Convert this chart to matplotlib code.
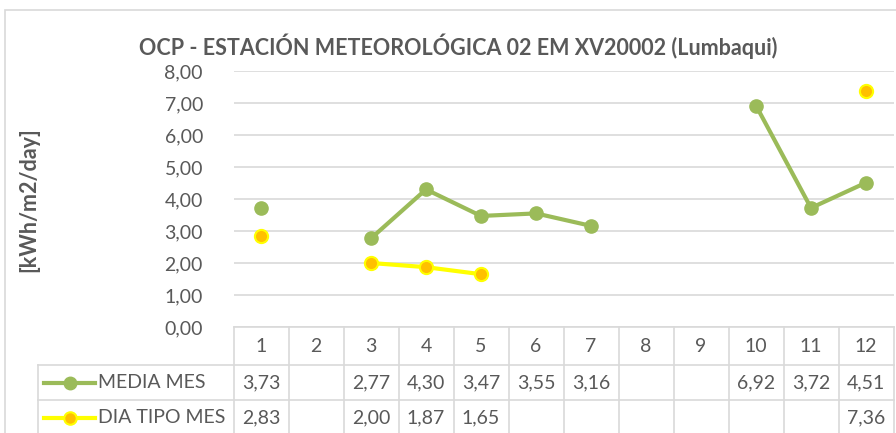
import numpy as np
import matplotlib.pyplot as plt
from matplotlib.patches import Rectangle
from matplotlib.lines import Line2D

plt.rcParams['font.family'] = ['Lato', 'DejaVu Sans']

months = [1, 2, 3, 4, 5, 6, 7, 8, 9, 10, 11, 12]
media_mes = [3.73, np.nan, 2.77, 4.30, 3.47, 3.55, 3.16, np.nan, np.nan, 6.92, 3.72, 4.51]
dia_tipo_mes = [2.83, np.nan, 2.00, 1.87, 1.65, np.nan, np.nan, np.nan, np.nan, np.nan, np.nan, 7.36]
series_names = ['MEDIA MES', 'DIA TIPO MES']
yticks = [0, 1, 2, 3, 4, 5, 6, 7, 8]

W, H = 896, 433
TXT = '#595959'
GRID = '#D9D9D9'
GREEN = '#9BBB59'
YELLOW = '#FFFF00'
ORANGE = '#FFC000'


def fx(px):
    return px / W


def fy(py):
    return 1 - py / H


fig = plt.figure(figsize=(W / 100, H / 100), dpi=100)

# outer chart border
fig.patches.append(Rectangle((fx(5), fy(440)), fx(900), fy(10) - fy(440),
                             transform=fig.transFigure, fill=False,
                             edgecolor=GRID, linewidth=1.2))

left, right, top, bottom = 233.5, 893.5, 71, 327
ax = fig.add_axes([fx(left), fy(bottom), fx(right - left), fy(top) - fy(bottom)])

x = np.array(months)
ax.plot(x, media_mes, color=GREEN, linewidth=3, marker='o', markersize=9.5,
        markerfacecolor=GREEN, markeredgecolor=GREEN, solid_capstyle='round')
ax.plot(x, dia_tipo_mes, color=YELLOW, linewidth=3, marker='o', markersize=9.5,
        markerfacecolor=ORANGE, markeredgecolor=YELLOW, markeredgewidth=1.5)

ax.set_xlim(0.5, 12.5)
ax.set_ylim(0, 8)
ax.set_yticks(yticks)
ax.set_yticklabels([f'{v:.2f}'.replace('.', ',') for v in yticks], color=TXT, fontsize=14)
ax.tick_params(axis='y', length=0, pad=22)
ax.set_xticks([])
for s in ax.spines.values():
    s.set_visible(False)
for v in yticks:
    ax.axhline(v, color=GRID, linewidth=1.2, zorder=0)

fig.text(fx(458), fy(46), 'OCP - ESTACIÓN METEOROLÓGICA 02 EM XV20002 (Lumbaqui)',
         ha='center', va='center', fontsize=15.5, fontweight='bold', color=TXT)
fig.text(fx(29), fy(200), '[kWh/m2/day]', ha='center', va='center', rotation=90,
         fontsize=15.5, fontweight='bold', color=TXT)

# data table drawn in pixel coordinates
tab = fig.add_axes([0, 0, 1, 1])
tab.set_xlim(0, W)
tab.set_ylim(H, 0)
tab.axis('off')
tab.patch.set_alpha(0)

col_w = (right - left) / len(months)
row_y = [327, 365, 400, 435]
leg_left = 38

# horizontal lines
tab.plot([left, right], [row_y[0], row_y[0]], color=GRID, lw=1.2)
for yy in row_y[1:3]:
    tab.plot([leg_left, right], [yy, yy], color=GRID, lw=1.2)
# vertical lines
tab.plot([leg_left, leg_left], [row_y[1], H + 5], color=GRID, lw=1.2)
for i in range(len(months) + 1):
    xx = left + i * col_w
    tab.plot([xx, xx], [row_y[0], H + 5], color=GRID, lw=1.2)

for i, m in enumerate(months):
    cx = left + (i + 0.5) * col_w
    tab.text(cx, (row_y[0] + row_y[1]) / 2 + 1, str(m), ha='center', va='center',
             fontsize=14, color=TXT)

series = [media_mes, dia_tipo_mes]
styles = [dict(color=GREEN, mfc=GREEN, mec=GREEN, mew=1),
          dict(color=YELLOW, mfc=ORANGE, mec=YELLOW, mew=1.5)]
for r, (name, vals, st) in enumerate(zip(series_names, series, styles)):
    cy = (row_y[r + 1] + row_y[r + 2]) / 2
    tab.add_line(Line2D([44, 95], [cy, cy], color=st['color'], lw=3))
    tab.add_line(Line2D([69.5], [cy], marker='o', markersize=9, color=st['color'],
                        markerfacecolor=st['mfc'], markeredgecolor=st['mec'],
                        markeredgewidth=st['mew']))
    tab.text(98, cy, name, ha='left', va='center', fontsize=14, color=TXT)
    for i, v in enumerate(vals):
        if np.isnan(v):
            continue
        cx = left + (i + 0.5) * col_w
        tab.text(cx, cy, f'{v:.2f}'.replace('.', ','), ha='center', va='center',
                 fontsize=14, color=TXT)

fig.savefig('out.png', dpi=100)
